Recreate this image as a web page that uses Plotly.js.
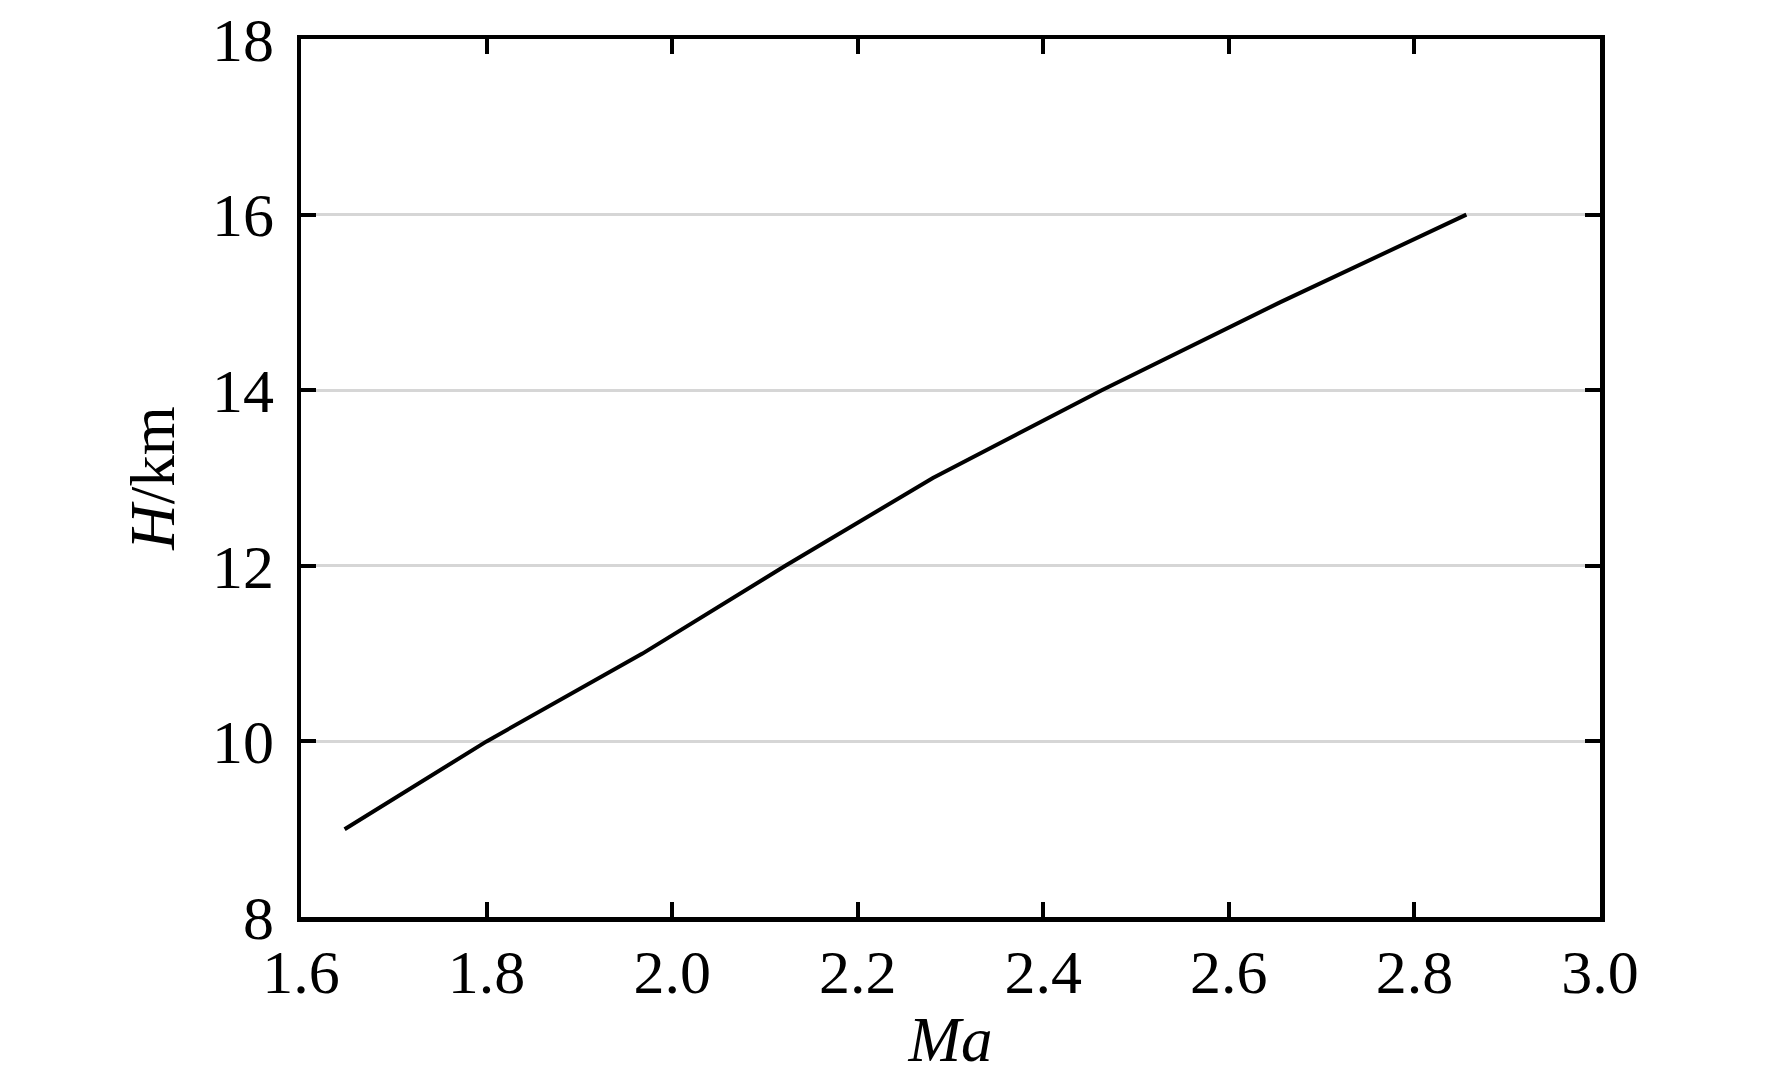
<!DOCTYPE html>
<html>
<head>
<meta charset="utf-8">
<script src="https://cdn.plot.ly/plotly-3.0.1.min.js"></script>
<style>html,body{margin:0;padding:0;background:#fff;}#chart{width:1772px;height:1086px;}</style>
</head>
<body>
<div id="chart"></div>
<script>
const machNumbers = [1.647, 1.800, 1.968, 2.122, 2.281, 2.463, 2.655, 2.856];
const altitudeKm = [9, 10, 11, 12, 13, 14, 15, 16];
const xTickValues = [1.6, 1.8, 2.0, 2.2, 2.4, 2.6, 2.8, 3.0];
const xTickLabels = ["1.6", "1.8", "2.0", "2.2", "2.4", "2.6", "2.8", "3.0"];
const yTickValues = [8, 10, 12, 14, 16, 18];
const yTickLabels = ["8", "10", "12", "14", "16", "18"];

const fontFamily = "Liberation Serif";

const trace = {
  x: machNumbers,
  y: altitudeKm,
  type: "scatter",
  mode: "lines",
  line: {color: "#000000", width: 4},
  showlegend: false,
  hoverinfo: "skip"
};

const axisCommon = {
  showline: true,
  linecolor: "#000000",
  linewidth: 4.5,
  mirror: "ticks",
  ticks: "inside",
  ticklen: 15,
  tickwidth: 4,
  tickcolor: "#000000",
  zeroline: false,
  tickfont: {family: fontFamily, size: 62, color: "#000000"}
};

const layout = {
  width: 1772,
  height: 1086,
  paper_bgcolor: "#ffffff",
  plot_bgcolor: "#ffffff",
  margin: {l: 301, r: 172, t: 39, b: 169},
  font: {family: fontFamily},
  xaxis: Object.assign({}, axisCommon, {
    range: [1.6, 3.0],
    tickvals: xTickValues,
    ticktext: xTickLabels,
    showgrid: false,
    ticklabelstandoff: -3,
    title: {text: "<i>Ma</i>", font: {family: fontFamily, size: 63, color: "#000000"}, standoff: 13}
  }),
  yaxis: Object.assign({}, axisCommon, {
    range: [8, 18],
    tickvals: yTickValues,
    ticktext: yTickLabels,
    showgrid: true,
    gridcolor: "#d6d6d6",
    gridwidth: 3,
    ticklabelstandoff: 10,
    title: {text: "<i>H</i>/km", font: {family: fontFamily, size: 63, color: "#000000"}, standoff: 18}
  })
};

Plotly.newPlot("chart", [trace], layout, {staticPlot: true, displayModeBar: false});
</script>
</body>
</html>
